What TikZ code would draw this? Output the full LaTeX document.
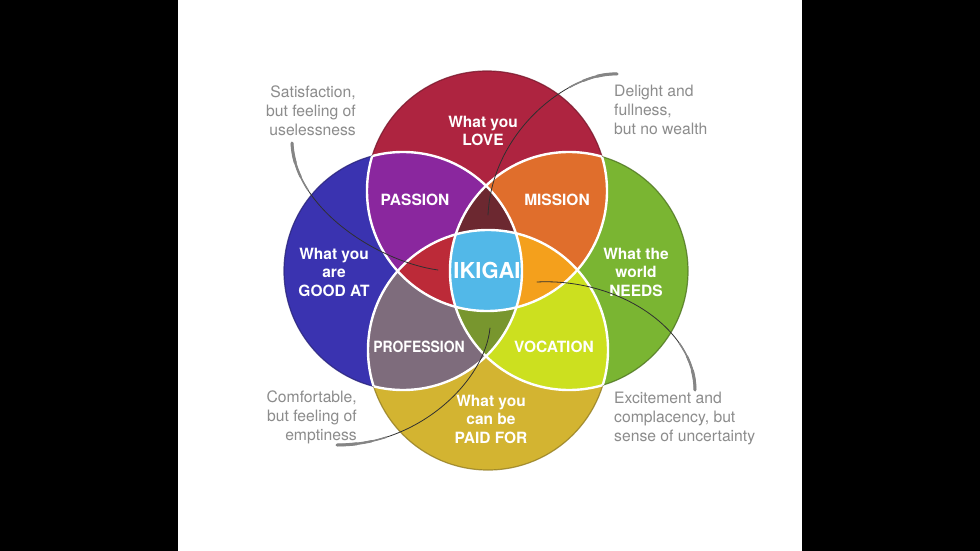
\documentclass[tikz,border=0pt]{standalone}
\usepackage{fontspec}
\setmainfont{TeX Gyre Heros}
\definecolor{cT}{HTML}{AE2440}
\definecolor{cL}{HTML}{3A33B0}
\definecolor{cR}{HTML}{7AB532}
\definecolor{cB}{HTML}{D3B431}
\definecolor{cTL}{HTML}{8A279E}
\definecolor{cTR}{HTML}{E06E2C}
\definecolor{cBL}{HTML}{7E6C7C}
\definecolor{cBR}{HTML}{CCE01F}
\definecolor{cTLR}{HTML}{6C2830}
\definecolor{cTLB}{HTML}{BC2A38}
\definecolor{cTRB}{HTML}{F4A01C}
\definecolor{cLRB}{HTML}{78962E}
\definecolor{cAll}{HTML}{52B8E8}
\definecolor{annc}{HTML}{8C8C8C}
\definecolor{brushc}{HTML}{858585}
\definecolor{linec}{HTML}{303030}
\tikzset{
  lab/.style={text=white, font=\bfseries\fontsize{15.5}{18.5}\selectfont, align=center, inner sep=0pt},
  ann/.style={text=annc, font=\fontsize{15.7}{19}\selectfont, inner sep=0pt},
  wline/.style={draw=white, line width=2.4pt},
  rim/.style={line width=1.2pt, opacity=0.8},
  conn/.style={draw=linec, line width=0.8pt, line cap=round,
    postaction={draw=brushc, line width=1.6pt, dash pattern=on 50pt off 3000pt},
    postaction={draw=brushc, line width=2.3pt, dash pattern=on 35pt off 3000pt},
    postaction={draw=brushc, line width=3pt, dash pattern=on 20pt off 3000pt}}
}
\begin{document}
\begin{tikzpicture}[x=1pt,y=-1pt]
\fill[black] (0,0) rectangle (980,551);
\fill[white] (178,0) rectangle (802,551);
\useasboundingbox (0,0) rectangle (980,551);
\coordinate (T) at (487,191);
\coordinate (L) at (403,271);
\coordinate (R) at (569,271);
\coordinate (B) at (488,350);
% single circles
\fill[cT] (T) circle (120pt);
\fill[cL] (L) circle (119pt);
\fill[cR] (R) circle (119pt);
\fill[cB] (B) circle (120pt);
% pairs
\begin{scope}
  \clip (T) circle (120pt);
  \fill[cTL] (L) circle (119pt);
  \fill[cTR] (R) circle (119pt);
\end{scope}
\begin{scope}
  \clip (B) circle (120pt);
  \fill[cBL] (L) circle (119pt);
  \fill[cBR] (R) circle (119pt);
\end{scope}
% triples
\begin{scope}
  \clip (T) circle (120pt); \clip (L) circle (119pt);
  \fill[cTLR] (R) circle (119pt);
\end{scope}
\begin{scope}
  \clip (T) circle (120pt); \clip (L) circle (119pt);
  \fill[cTLB] (B) circle (120pt);
\end{scope}
\begin{scope}
  \clip (T) circle (120pt); \clip (R) circle (119pt);
  \fill[cTRB] (B) circle (120pt);
\end{scope}
\begin{scope}
  \clip (B) circle (120pt); \clip (L) circle (119pt);
  \fill[cLRB] (R) circle (119pt);
\end{scope}
% all four
\begin{scope}
  \clip (T) circle (120pt); \clip (L) circle (119pt); \clip (R) circle (119pt);
  \fill[cAll] (B) circle (120pt);
\end{scope}
% watercolour rims
\draw[rim, draw=cT!70!black] (T) circle (120pt);
\draw[rim, draw=cL!70!black] (L) circle (119pt);
\draw[rim, draw=cR!65!black] (R) circle (119pt);
\draw[rim, draw=cB!70!black] (B) circle (120pt);
% white inner arcs
\begin{scope}
  \clip (L) circle (119pt) (R) circle (119pt) (B) circle (120pt);
  \draw[wline] (T) circle (120pt);
\end{scope}
\begin{scope}
  \clip (T) circle (120pt) (R) circle (119pt) (B) circle (120pt);
  \draw[wline] (L) circle (119pt);
\end{scope}
\begin{scope}
  \clip (T) circle (120pt) (L) circle (119pt) (B) circle (120pt);
  \draw[wline] (R) circle (119pt);
\end{scope}
\begin{scope}
  \clip (T) circle (120pt) (L) circle (119pt) (R) circle (119pt);
  \draw[wline] (B) circle (120pt);
\end{scope}
% labels
\node[lab] (love) at (483,131) {What you\\LOVE};
\node[lab] (good) at (334,272) {What you\\are\\GOOD AT};
\node[lab] (needs) at (636,272) {What the\\world\\NEEDS};
\node[lab] (paid) at (491,419) {What you\\can be\\PAID FOR};
\node[lab] (passion) at (415,200) {PASSION};
\node[lab] (mission) at (557,200) {MISSION};
\node[lab] (profession) at (419,347) {\scalebox{0.9}[1]{PROFESSION}};
\node[lab] (vocation) at (554,347) {VOCATION};
\node[lab, font=\bfseries\fontsize{22}{22}\selectfont] (ikigai) at (487,270) {IKIGAI};
% annotations
\node[ann, align=right, anchor=north east] (a1) at (356,86) {Satisfaction,\\but feeling of\\uselessness};
\node[ann, align=left, anchor=north west] (a2) at (614,85) {Delight and\\fullness,\\but no wealth};
\node[ann, align=right, anchor=north east] (a3) at (357,391) {Comfortable,\\but feeling of\\emptiness};
\node[ann, align=left, anchor=north west] (a4) at (614,392) {Excitement and\\complacency, but\\sense of uncertainty};
% connectors
\coordinate (p1) at (292,143); \coordinate (q1) at (438,270);
\coordinate (p2) at (617,74);  \coordinate (q2) at (488,215);
\coordinate (p3) at (337,445); \coordinate (q3) at (490,328);
\coordinate (p4) at (695,390); \coordinate (q4) at (537,282);
\draw[conn] (p1) .. controls (295,210) and (380,262) .. (q1);
\draw[conn] (p2) .. controls (570,72) and (492,130) .. (q2);
\draw[conn] (p3) .. controls (420,445) and (485,380) .. (q3);
\draw[conn] (p4) .. controls (695,330) and (620,278) .. (q4);
\end{tikzpicture}
\end{document}
